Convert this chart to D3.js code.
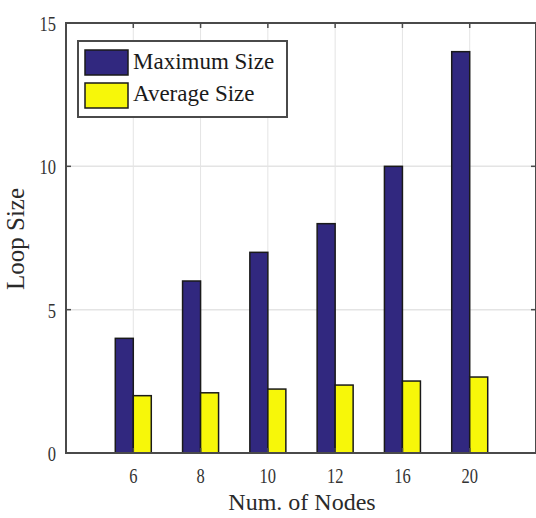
<!DOCTYPE html>
<html lang="en">
<head>
    <meta charset="UTF-8">
    <title>Loop Size</title>
    <script src="https://d3js.org/d3.v7.min.js"></script>
    <style>
        body { margin: 0; background: #fff; }
        text { font-family: "Liberation Serif", "DejaVu Serif", serif; }
    </style>
</head>
<body>
    <div id="chart"></div>
    <script>
        const nodes = ["6", "8", "10", "12", "16", "20"];
        const maxSize = [4, 6, 7, 8, 10, 14];
        const avgSize = [2.0, 2.1, 2.23, 2.37, 2.51, 2.65];
        const yTicks = [0, 5, 10, 15];
        const seriesNames = ["Maximum Size", "Average Size"];
        const colors = ["#31287f", "#f7f709"];

        const width = 536, height = 518;
        const box = {left: 66, right: 536, top: 23, bottom: 453};

        const svg = d3.select("#chart").append("svg")
            .attr("width", width)
            .attr("height", height);

        const x = d3.scaleLinear().domain([0, 7]).range([box.left, 537]);
        const y = d3.scaleLinear().domain([0, 15]).range([box.bottom, box.top]);
        const sub = d3.scaleBand().domain(seriesNames).range([-18, 18]);

        // grid
        svg.append("g").selectAll("line")
            .data(nodes)
            .enter().append("line")
            .attr("x1", (d, i) => x(i + 1)).attr("x2", (d, i) => x(i + 1))
            .attr("y1", box.top).attr("y2", box.bottom)
            .attr("stroke", "#e4e4e4").attr("stroke-width", 1);
        svg.append("g").selectAll("line")
            .data(yTicks.slice(1, -1))
            .enter().append("line")
            .attr("x1", box.left).attr("x2", box.right)
            .attr("y1", d => y(d)).attr("y2", d => y(d))
            .attr("stroke", "#e4e4e4").attr("stroke-width", 1.5);

        // bars
        const data = nodes.map((n, i) => ({ n, i, vals: [maxSize[i], avgSize[i]] }));
        const groups = svg.append("g").selectAll("g")
            .data(data)
            .enter().append("g")
            .attr("transform", d => `translate(${x(d.i + 1)},0)`);
        groups.selectAll("rect")
            .data(d => d.vals.map((v, k) => ({ v, k })))
            .enter().append("rect")
            .attr("x", d => sub(seriesNames[d.k]))
            .attr("width", sub.bandwidth())
            .attr("y", d => y(d.v))
            .attr("height", d => y(0) - y(d.v))
            .attr("fill", d => colors[d.k])
            .attr("stroke", "#1a1a1a")
            .attr("stroke-width", 1.5);

        // box
        svg.append("rect")
            .attr("x", box.left).attr("y", box.top)
            .attr("width", box.right - box.left).attr("height", box.bottom - box.top)
            .attr("fill", "none").attr("stroke", "#4a4a4a").attr("stroke-width", 2);

        // ticks
        const tickG = svg.append("g").attr("stroke", "#4a4a4a").attr("stroke-width", 1.5);
        nodes.forEach((n, i) => {
            tickG.append("line").attr("x1", x(i + 1)).attr("x2", x(i + 1)).attr("y1", box.bottom).attr("y2", box.bottom - 5);
            tickG.append("line").attr("x1", x(i + 1)).attr("x2", x(i + 1)).attr("y1", box.top).attr("y2", box.top + 5);
        });
        yTicks.forEach(t => {
            tickG.append("line").attr("x1", box.left).attr("x2", box.left + 5).attr("y1", y(t)).attr("y2", y(t));
            tickG.append("line").attr("x1", box.right - 5).attr("x2", box.right).attr("y1", y(t)).attr("y2", y(t));
        });

        // tick labels (narrow digits, as in the source)
        svg.append("g").selectAll("text")
            .data(yTicks)
            .enter().append("text")
            .attr("transform", d => `translate(56,${y(d) + 8}) scale(0.75,1)`)
            .attr("text-anchor", "end")
            .attr("font-size", 22)
            .attr("fill", "#333")
            .text(d => d);
        svg.append("g").selectAll("text")
            .data(nodes)
            .enter().append("text")
            .attr("transform", (d, i) => `translate(${x(i + 1)},483) scale(0.75,1)`)
            .attr("text-anchor", "middle")
            .attr("font-size", 22)
            .attr("fill", "#333")
            .text(d => d);

        // axis titles
        svg.append("text")
            .attr("x", 302).attr("y", 510)
            .attr("text-anchor", "middle")
            .attr("font-size", 24)
            .attr("fill", "#2a2a2a")
            .text("Num. of Nodes");
        svg.append("text")
            .attr("transform", "translate(24,239) rotate(-90)")
            .attr("text-anchor", "middle")
            .attr("font-size", 25)
            .attr("fill", "#2a2a2a")
            .text("Loop Size");

        // legend
        const lg = svg.append("g");
        lg.append("rect")
            .attr("x", 78).attr("y", 41).attr("width", 209).attr("height", 76)
            .attr("fill", "#fff").attr("stroke", "#4a4a4a").attr("stroke-width", 2);
        seriesNames.forEach((s, k) => {
            lg.append("rect")
                .attr("x", 85).attr("y", 50 + k * 33).attr("width", 43).attr("height", 25)
                .attr("fill", colors[k]).attr("stroke", "#1a1a1a").attr("stroke-width", 1.5);
            lg.append("text")
                .attr("x", 133).attr("y", 69 + k * 32)
                .attr("font-size", 23)
                .attr("fill", "#1a1a1a")
                .text(s);
        });
    </script>
</body>
</html>
